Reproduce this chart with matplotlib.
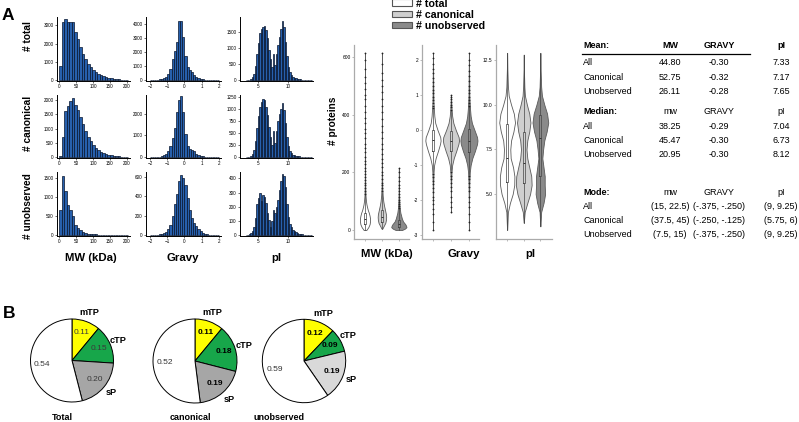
import matplotlib.pyplot as plt
import numpy as np
from matplotlib.patches import Patch
from matplotlib.lines import Line2D

plt.rcParams['font.family'] = ['Liberation Sans', 'DejaVu Sans']

W, H = 799, 422

# --- Histogram data (counts per bin) ---
mw_edges = np.arange(0, 203, 7.5)
gravy_edges = np.arange(-2, 2.01, 0.125)
pi_edges = np.arange(3, 14.01, 0.25)

mw_total = [750, 3150, 3350, 3200, 3150, 3200, 2650, 2250, 1800, 1450, 1150, 900, 720, 560,
            430, 340, 270, 210, 160, 130, 100, 80, 60, 45, 35, 25, 20]
mw_can = [50, 700, 1600, 1800, 1950, 2080, 1820, 1650, 1400, 1150, 900, 700, 550, 420,
          330, 260, 200, 160, 120, 95, 75, 60, 45, 35, 25, 20, 15]
mw_unobs = [650, 1550, 1150, 780, 650, 500, 280, 180, 130, 90, 60, 45, 35, 25,
            20, 15, 12, 10, 8, 6, 5, 4, 3, 3, 2, 2, 1]

gravy_total = [5, 10, 20, 35, 55, 90, 150, 260, 450, 800, 1500, 2100, 2700, 4250, 4200, 3100,
               1700, 950, 700, 600, 400, 250, 150, 90, 55, 35, 20, 12, 8, 5, 3, 2]
gravy_can = [3, 5, 10, 20, 30, 50, 90, 160, 280, 500, 900, 1350, 2100, 2650, 2800, 2100,
             1050, 500, 400, 350, 280, 170, 100, 60, 35, 20, 12, 8, 5, 3, 2, 1]
gravy_unobs = [1, 2, 3, 5, 8, 12, 20, 35, 60, 110, 200, 320, 420, 560, 620, 590,
               520, 380, 260, 180, 130, 90, 60, 40, 25, 15, 10, 6, 4, 3, 2, 1]

pi_total = [5, 10, 20, 40, 90, 200, 450, 800, 1150, 1450, 1600, 1650, 1680, 1550, 1300, 950,
            650, 420, 800, 480, 800, 1100, 1350, 1600, 1850, 1650, 1200, 750, 420, 250,
            160, 110, 80, 60, 45, 35, 28, 20, 15, 10, 6, 4, 2, 1]
pi_can = [3, 6, 12, 25, 60, 140, 330, 600, 850, 1050, 1150, 1200, 1180, 1050, 880, 620,
          420, 260, 550, 300, 550, 750, 900, 1000, 1130, 980, 700, 420, 230, 130,
          80, 55, 40, 30, 22, 16, 12, 9, 6, 4, 3, 2, 1, 1]
pi_unobs = [2, 4, 8, 15, 30, 60, 120, 220, 260, 300, 240, 280, 270, 230, 160, 110,
            60, 100, 175, 160, 200, 250, 320, 380, 430, 420, 340, 220, 130, 80,
            55, 40, 30, 22, 16, 12, 9, 7, 5, 3, 2, 1, 1, 0]

row_names = ['# total', '# canonical', '# unobserved']
hist_data = [
    [mw_total, gravy_total, pi_total],
    [mw_can, gravy_can, pi_can],
    [mw_unobs, gravy_unobs, pi_unobs],
]
hist_edges = [mw_edges, gravy_edges, pi_edges]
hist_xlim = [(-5.9, 209), (-2.23, 2.12), (2.05, 14.2)]
hist_xticks = [[0, 50, 100, 150, 200], [-2, -1, 0, 1, 2], [5, 10]]
hist_ylim = [[3450, 4500, 1960], [2170, 2860, 1290], [1650, 650, 445]]
hist_yticks = [
    [[0, 1000, 2000, 3000], [0, 1000, 2000, 3000, 4000], [0, 500, 1000, 1500]],
    [[0, 500, 1000, 1500, 2000], [0, 1000, 2000], [0, 250, 500, 750, 1000, 1250]],
    [[0, 500, 1000, 1500], [0, 200, 400, 600], [0, 100, 200, 300, 400]],
]
col_names = ['MW (kDa)', 'Gravy', 'pI']

# --- Violin data: (coords, relative density) ---
groups = ['# total', '# canonical', '# unobserved']
group_colors = ['white', '#cfcfcf', '#8a8a8a']

mw_coords = [
    [0, 10, 20, 30, 40, 50, 60, 70, 80, 90, 100, 120, 150, 200, 300, 400, 500, 615],
    [5, 15, 25, 35, 45, 55, 65, 75, 85, 100, 120, 150, 200, 300, 400, 500, 615],
    [0, 5, 10, 15, 20, 25, 30, 40, 50, 60, 80, 100, 130, 160, 190, 215],
]
mw_dens = [
    [0.25, 0.65, 0.9, 1.0, 1.0, 0.9, 0.75, 0.55, 0.4, 0.28, 0.2, 0.1, 0.05, 0.03, 0.02, 0.015, 0.01, 0.005],
    [0.1, 0.45, 0.8, 0.95, 1.0, 0.95, 0.8, 0.65, 0.5, 0.32, 0.18, 0.08, 0.04, 0.025, 0.015, 0.01, 0.005],
    [0.4, 0.8, 1.0, 0.95, 0.85, 0.7, 0.55, 0.4, 0.3, 0.2, 0.1, 0.06, 0.03, 0.02, 0.01, 0.005],
]
gr_coords = [
    [-2.85, -2.5, -2, -1.5, -1.2, -1.0, -0.8, -0.6, -0.4, -0.3, -0.2, 0, 0.2, 0.4, 0.6, 0.8, 1.0, 1.5, 2.0, 2.2],
    [-2.35, -2, -1.5, -1.2, -1.0, -0.8, -0.6, -0.4, -0.3, -0.2, 0, 0.2, 0.4, 0.6, 0.8, 1.0],
    [-2.85, -2.5, -2, -1.5, -1.2, -1.0, -0.8, -0.6, -0.4, -0.3, -0.2, 0, 0.2, 0.4, 0.6, 0.8, 1.0, 1.5, 2.0, 2.2],
]
gr_dens = [
    [0.005, 0.01, 0.02, 0.04, 0.08, 0.15, 0.35, 0.65, 0.92, 1.0, 0.95, 0.6, 0.3, 0.18, 0.12, 0.07, 0.05, 0.03, 0.01, 0.005],
    [0.005, 0.01, 0.03, 0.07, 0.15, 0.35, 0.65, 0.92, 1.0, 0.95, 0.6, 0.3, 0.15, 0.08, 0.04, 0.01],
    [0.005, 0.01, 0.02, 0.05, 0.1, 0.2, 0.4, 0.7, 0.95, 1.0, 0.95, 0.65, 0.35, 0.2, 0.13, 0.08, 0.05, 0.03, 0.01, 0.005],
]
pi_coords = [
    [3.0, 4.0, 4.5, 5.0, 5.5, 6.0, 6.5, 7.0, 7.5, 8.0, 8.5, 9.0, 9.5, 10.0, 10.5, 11.0, 12.0, 12.9],
    [3.4, 4.0, 4.5, 5.0, 5.5, 6.0, 6.5, 7.0, 7.5, 8.0, 8.5, 9.0, 9.5, 10.0, 10.5, 11.0, 12.0, 12.8],
    [3.2, 4.0, 4.5, 5.0, 5.5, 6.0, 6.5, 7.0, 7.5, 8.0, 8.5, 9.0, 9.5, 10.0, 10.5, 11.0, 12.0, 12.9],
]
pi_dens = [
    [0.01, 0.1, 0.35, 0.7, 0.9, 0.92, 0.75, 0.45, 0.4, 0.5, 0.8, 1.0, 0.85, 0.5, 0.2, 0.1, 0.03, 0.005],
    [0.01, 0.12, 0.45, 0.8, 1.0, 0.95, 0.7, 0.45, 0.35, 0.45, 0.7, 0.85, 0.7, 0.4, 0.15, 0.08, 0.02, 0.005],
    [0.01, 0.1, 0.4, 0.6, 0.55, 0.55, 0.4, 0.25, 0.35, 0.5, 0.8, 1.0, 0.85, 0.5, 0.2, 0.1, 0.03, 0.005],
]

# box stats: q1, median, q3, whisker low, whisker high
mw_box = [(22, 38.25, 60, 0.5, 120), (28, 45.47, 68, 5, 130), (10, 20.95, 35, 0.5, 72)]
gr_box = [(-0.6, -0.29, 0.0, -1.2, 0.6), (-0.6, -0.30, -0.02, -1.15, 0.55), (-0.62, -0.30, 0.02, -1.25, 0.65)]
pi_box = [(5.7, 7.04, 8.9, 3.0, 12.9), (5.6, 6.73, 8.5, 3.4, 12.8), (6.0, 8.12, 9.4, 3.2, 12.9)]

mw_fliers = [
    [125, 135, 145, 155, 165, 175, 185, 195, 205, 215, 228, 240, 255, 270, 285, 300, 318, 335,
     352, 370, 390, 410, 432, 455, 470, 490, 510, 530, 560, 590, 615],
    [135, 145, 155, 165, 178, 190, 203, 218, 232, 248, 265, 282, 300, 320, 340, 362, 385, 408,
     430, 455, 480, 500, 520, 545, 575, 615],
    [75, 82, 90, 98, 106, 115, 125, 135, 145, 158, 170, 185, 200, 215],
]
gr_fliers = [
    [0.62, 0.7, 0.78, 0.86, 0.95, 1.05, 1.15, 1.25, 1.38, 1.5, 1.62, 1.75, 1.9, 2.05, 2.2,
     -1.25, -1.35, -1.45, -1.55, -1.65, -1.78, -1.9, -2.0, -2.1, -2.25, -2.4, -2.62, -2.85],
    [0.58, 0.65, 0.72, 0.8, 0.88, 0.95, 1.0,
     -1.2, -1.3, -1.4, -1.5, -1.62, -1.75, -1.9, -2.05, -2.2, -2.35],
    [0.7, 0.78, 0.86, 0.95, 1.05, 1.15, 1.27, 1.4, 1.55, 1.7, 1.85, 2.0, 2.2,
     -1.3, -1.4, -1.5, -1.62, -1.75, -1.9, -2.05, -2.2, -2.4, -2.62, -2.85],
]
pi_fliers = [[], [], []]

violin_sets = [
    ('MW (kDa)', mw_coords, mw_dens, mw_box, mw_fliers, [0, 200, 400, 600], '%d', (-31, 642), [0.6, 0.5, 0.9]),
    ('Gravy', gr_coords, gr_dens, gr_box, gr_fliers, [-3, -2, -1, 0, 1, 2], '%d', (-3.11, 2.43), [0.85, 0.9, 0.95]),
    ('pI', pi_coords, pi_dens, pi_box, pi_fliers, [5.0, 7.5, 10.0, 12.5], '%.1f', (2.49, 13.34), [0.95, 0.95, 0.95]),
]

# --- Summary table ---
stat_rows = ['All', 'Canonical', 'Unobserved']
mean_vals = [['44.80', '-0.30', '7.33'], ['52.75', '-0.32', '7.17'], ['26.11', '-0.28', '7.65']]
median_vals = [['38.25', '-0.29', '7.04'], ['45.47', '-0.30', '6.73'], ['20.95', '-0.30', '8.12']]
mode_vals = [['(15, 22.5)', '(-.375, -.250)', '(9, 9.25)'],
             ['(37.5, 45)', '(-.250, -.125)', '(5.75, 6)'],
             ['(7.5, 15)', '(-.375, -.250)', '(9, 9.25)']]

# --- Pie data ---
pie_titles = ['Total', 'canonical', 'unobserved']
pie_labels = ['mTP', 'cTP', 'sP', '']
pie_vals = [[0.11, 0.15, 0.20, 0.54], [0.11, 0.18, 0.19, 0.52], [0.12, 0.09, 0.19, 0.59]]
sp_colors = ['#a6a6a6', '#a6a6a6', '#d9d9d9']


def box(x0, y0, x1, y1):
    return [x0 / W, 1 - y1 / H, (x1 - x0) / W, (y1 - y0) / H]


def ftext(x, y, s, **kw):
    fig.text(x / W, 1 - y / H, s, **kw)


fig = plt.figure(figsize=(7.99, 4.22), dpi=100)

# --- Panel A: histograms ---
col_x = [(57, 130), (146, 221), (240, 313)]
row_y = [(17, 81), (95, 158), (172, 236)]
for r in range(3):
    for c in range(3):
        ax = fig.add_axes(box(col_x[c][0], row_y[r][0], col_x[c][1], row_y[r][1]))
        e = hist_edges[c]
        ax.bar(e[:-1], hist_data[r][c], width=np.diff(e), align='edge',
               color='#2760ad', edgecolor='#07142c', linewidth=0.5)
        ax.set_xlim(*hist_xlim[c])
        ax.set_ylim(-0.012 * hist_ylim[r][c], hist_ylim[r][c])
        ax.set_xticks(hist_xticks[c])
        ax.set_yticks(hist_yticks[r][c])
        ax.tick_params(labelsize=3.3, length=1.5, width=0.4, pad=1)
        for s in ['top', 'right']:
            ax.spines[s].set_visible(False)
        for s in ['left', 'bottom']:
            ax.spines[s].set_linewidth(0.7)

row_label_y = [36, 123, 206]
for name, y in zip(row_names, row_label_y):
    ftext(28, y, name, rotation=90, ha='center', va='center', fontsize=7.3, fontweight='bold')
for name, x in zip(col_names, [91, 183, 276]):
    ftext(x, 258, name, ha='center', va='center', fontsize=8.2, fontweight='bold')

ftext(8, 16, 'A', ha='center', va='center', fontsize=12.5, fontweight='bold')
ftext(9, 314, 'B', ha='center', va='center', fontsize=12.5, fontweight='bold')

# --- Violin plots ---
vx = [(354, 409), (422, 479), (496, 552)]
vxlim = [(0.35, 3.6), (0.39, 3.56), (0.33, 3.7)]
vlabel_x = [387, 464, 530]
for k, (name, coords, dens, bstats, fliers, yt, fmt, ylim, widths) in enumerate(violin_sets):
    ax = fig.add_axes(box(vx[k][0], 45, vx[k][1], 239))
    vp = []
    for i in range(3):
        vp.append(dict(coords=np.array(coords[i]), vals=np.array(dens[i]),
                       mean=bstats[i][1], median=bstats[i][1],
                       min=coords[i][0], max=coords[i][-1]))
    parts = ax.violin(vp, positions=[1, 2, 3], widths=widths,
                      showmeans=False, showextrema=False, showmedians=False)
    for body, col in zip(parts['bodies'], group_colors):
        body.set_facecolor(col)
        body.set_edgecolor('#5a5a5a')
        body.set_linewidth(0.6)
        body.set_alpha(1)
    bx = []
    for i in range(3):
        q1, med, q3, lo, hi = bstats[i]
        bx.append(dict(q1=q1, med=med, q3=q3, whislo=lo, whishi=hi, fliers=fliers[i]))
    ax.bxp(bx, positions=[1, 2, 3], widths=0.13, showcaps=False,
           boxprops=dict(color='#444444', linewidth=0.5),
           whiskerprops=dict(color='#444444', linewidth=0.5),
           medianprops=dict(color='#333333', linewidth=0.7),
           flierprops=dict(marker='o', markersize=1.3, markerfacecolor='#222222',
                           markeredgecolor='none'))
    ax.set_xlim(*vxlim[k])
    ax.set_ylim(*ylim)
    ax.set_yticks(yt)
    ax.set_yticklabels([fmt % v for v in yt])
    ax.set_xticks([1, 2, 3])
    ax.set_xticklabels(['', '', ''])
    ax.tick_params(labelsize=3.5, length=1.5, width=0.4, pad=1, color='#888888')
    for s in ['top', 'right']:
        ax.spines[s].set_visible(False)
    for s in ['left', 'bottom']:
        ax.spines[s].set_color('#aaaaaa')
        ax.spines[s].set_linewidth(0.9)
    ftext(vlabel_x[k], 254, name, ha='center', va='center', fontsize=8.2, fontweight='bold')

ftext(333, 121, '# proteins', rotation=90, ha='center', va='center', fontsize=7.3, fontweight='bold')

handles = [Patch(facecolor=c, edgecolor='#555555', linewidth=0.8) for c in group_colors]
fig.legend(handles, groups, loc='upper left', bbox_to_anchor=(392 / W, 1 + 1.5 / H),
           frameon=False, prop={'weight': 'bold', 'size': 7.7}, handlelength=1.9,
           handleheight=0.55, handletextpad=0.3, labelspacing=0.1,
           borderpad=0, borderaxespad=0)

# --- Summary table ---
col_cx = [670, 719, 781]
fs = 6.5


def table_block(y0, first_gap, header, headers, bold_cols, vals):
    ftext(583, y0, header, ha='left', va='center', fontsize=fs, fontweight='bold')
    for x, h in zip(col_cx, headers):
        ftext(x, y0, h, ha='center', va='center', fontsize=fs,
              fontweight='bold' if bold_cols else 'normal')
    for j, (name, row) in enumerate(zip(stat_rows, vals)):
        y = y0 + first_gap + 14 * j
        ftext(583, y, name, ha='left', va='center', fontsize=fs)
        for x, v in zip(col_cx, row):
            ftext(x, y, v, ha='center', va='center', fontsize=fs)


table_block(45, 18, 'Mean:', ['MW', 'GRAVY', 'pI'], True, mean_vals)
fig.add_artist(Line2D([582 / W, 750 / W], [1 - 54 / H, 1 - 54 / H], color='black', linewidth=0.9))
table_block(111.7, 14.5, 'Median:', ['mw', 'GRAVY', 'pI'], False, median_vals)
table_block(192.7, 14, 'Mode:', ['mw', 'GRAVY', 'pI'], False, mode_vals)

# --- Panel B: pies ---
pie_cx = [72, 195, 304]
pie_cy = [360.5, 361, 361]
pie_r = [41.5, 42, 41.7]
title_x = [62, 190, 279]
for k in range(3):
    cx, cy, r = pie_cx[k], pie_cy[k], pie_r[k]
    ax = fig.add_axes(box(cx - r, cy - r, cx + r, cy + r))
    vals = pie_vals[k]
    tot = sum(vals)
    wedges, texts, autotexts = ax.pie(
        vals, labels=pie_labels, colors=['#ffff00', '#17a64a', sp_colors[k], 'white'],
        startangle=90, counterclock=False, labeldistance=1.22,
        autopct=lambda p, t=tot: '%.2f' % (p / 100 * t), pctdistance=0.72,
        wedgeprops=dict(edgecolor='black', linewidth=0.7))
    for t in texts:
        t.set_ha('center')
        t.set_fontsize(6.6)
        t.set_fontweight('bold')
    for i, t in enumerate(autotexts):
        t.set_fontsize(6)
        if k == 0:
            t.set_color('#3a3a3a')
        elif i < 3:
            t.set_color('black')
            t.set_fontweight('bold')
        else:
            t.set_color('#333333')
    ax.set_xlim(-1, 1)
    ax.set_ylim(-1, 1)
    ftext(title_x[k], 417, pie_titles[k], ha='center', va='center', fontsize=6.5, fontweight='bold')

fig.savefig('out.png', dpi=100)
